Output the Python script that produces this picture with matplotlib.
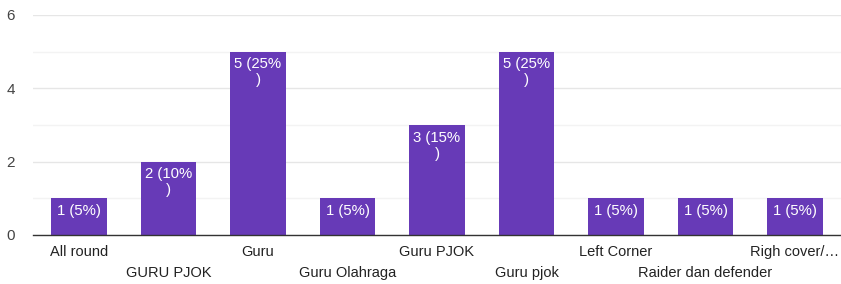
import matplotlib
matplotlib.use("Agg")
from matplotlib import pyplot as plt

# answers and counts
categories = ["All round", "GURU PJOK", "Guru", "Guru Olahraga", "Guru PJOK",
              "Guru pjok", "Left Corner", "Raider dan defender", "Righ cover/\u2026"]
counts = [1, 2, 5, 1, 3, 5, 1, 1, 1]
bar_labels = ["1 (5%)", "2 (10%\n)", "5 (25%\n)", "1 (5%)", "3 (15%\n)",
              "5 (25%\n)", "1 (5%)", "1 (5%)", "1 (5%)"]

plt.rcParams['font.family'] = ['Liberation Sans', 'DejaVu Sans']

fig = plt.figure(figsize=(8.41, 2.84), dpi=100)
ax = fig.add_axes([33 / 841, 49 / 284, 808 / 841, 220 / 284])

x = list(range(len(categories)))
bars = ax.bar(x, counts, width=0.62, color="#673ab7", zorder=3)

for rect, lab in zip(bars, bar_labels):
    ax.annotate(lab, (rect.get_x() + rect.get_width() / 2, rect.get_height()),
                xytext=(0, -4), textcoords="offset points",
                ha="center", va="top", color="white", fontsize=10.7,
                linespacing=1.2, zorder=4)

ax.set_xlim(-0.515, 8.515)
ax.set_ylim(0, 6)
ax.set_yticks([0, 2, 4, 6])
ax.set_yticks([1, 3, 5], minor=True)
ax.grid(axis="y", which="major", color="#e6e6e6", linewidth=1, zorder=0)
ax.grid(axis="y", which="minor", color="#f3f3f3", linewidth=1, zorder=0)

ax.set_xticks(x)
ax.set_xticklabels(categories)
ax.tick_params(axis="x", length=0, labelsize=10.5, labelcolor="#222222")
ax.tick_params(axis="y", which="both", length=0, labelsize=11, labelcolor="#444444", pad=13)
for i, tick in enumerate(ax.xaxis.get_major_ticks()):
    tick.set_pad(7.5 if i % 2 == 0 else 22.5)

for side in ["top", "right", "left"]:
    ax.spines[side].set_visible(False)
ax.spines["bottom"].set_color("#333333")
ax.spines["bottom"].set_linewidth(1)
ax.spines["bottom"].set_zorder(5)

fig.savefig("out.png", dpi=100)
